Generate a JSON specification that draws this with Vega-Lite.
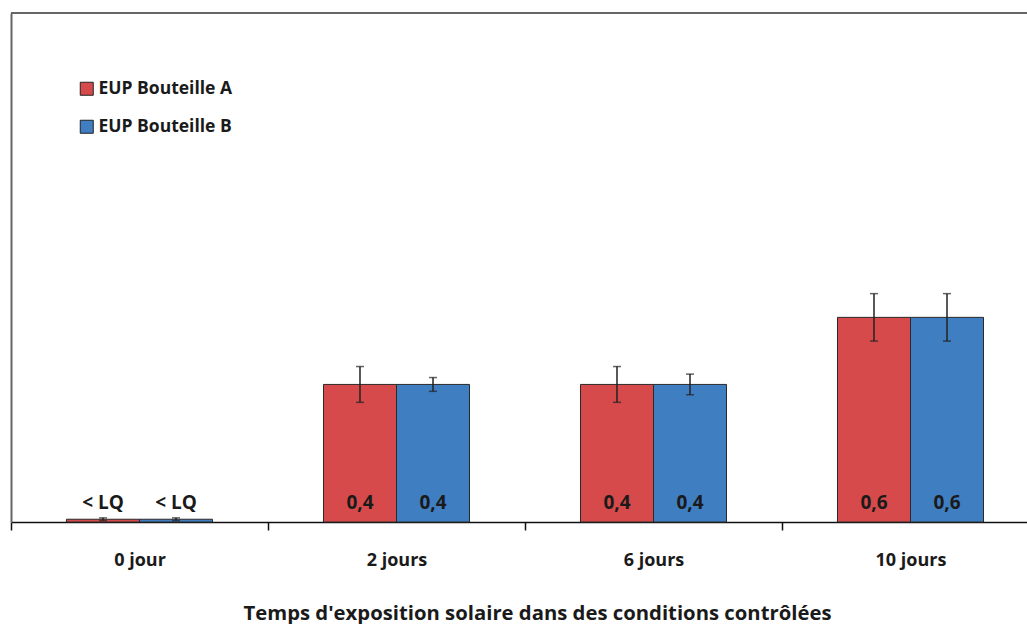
{
  "$schema": "https://vega.github.io/schema/vega-lite/v6.json",
  "autosize": "none",
  "width": 1016,
  "height": 509,
  "padding": {"left": 11, "top": 13, "right": 0, "bottom": 102},
  "background": "white",
  "config": {
    "view": {"stroke": null},
    "font": "Open Sans",
    "axis": {"labelFont": "Open Sans", "titleFont": "Open Sans"},
    "legend": {"labelFont": "Open Sans"}
  },
  "data": {
    "values": [
      {"jour": "0 jour", "serie": "EUP Bouteille A", "valeur": 0.008, "lo": 0.004, "hi": 0.012, "label": "< LQ"},
      {"jour": "0 jour", "serie": "EUP Bouteille B", "valeur": 0.008, "lo": 0.004, "hi": 0.012, "label": "< LQ"},
      {"jour": "2 jours", "serie": "EUP Bouteille A", "valeur": 0.4, "lo": 0.348, "hi": 0.452, "label": "0,4"},
      {"jour": "2 jours", "serie": "EUP Bouteille B", "valeur": 0.4, "lo": 0.38, "hi": 0.42, "label": "0,4"},
      {"jour": "6 jours", "serie": "EUP Bouteille A", "valeur": 0.4, "lo": 0.348, "hi": 0.452, "label": "0,4"},
      {"jour": "6 jours", "serie": "EUP Bouteille B", "valeur": 0.4, "lo": 0.37, "hi": 0.43, "label": "0,4"},
      {"jour": "10 jours", "serie": "EUP Bouteille A", "valeur": 0.595, "lo": 0.526, "hi": 0.664, "label": "0,6"},
      {"jour": "10 jours", "serie": "EUP Bouteille B", "valeur": 0.595, "lo": 0.526, "hi": 0.664, "label": "0,6"}
    ]
  },
  "encoding": {
    "x": {
      "field": "jour",
      "type": "nominal",
      "sort": ["0 jour", "2 jours", "6 jours", "10 jours"],
      "scale": {"range": [0, 1028], "paddingInner": 0, "paddingOuter": 0},
      "axis": {
        "title": "Temps d'exposition solaire dans des conditions contrôlées",
        "titleFontSize": 20.3,
        "titleFontWeight": "bold",
        "titleColor": "#1a1a1a",
        "titleX": 526,
        "titleY": 97,
        "titleBaseline": "alphabetic",
        "labelAngle": 0,
        "labelFontSize": 18,
        "labelFontWeight": "bold",
        "labelColor": "#1a1a1a",
        "labelPadding": 21,
        "tickBand": "extent",
        "tickSize": 8,
        "tickColor": "#111",
        "tickWidth": 1.5,
        "domainColor": "#111",
        "domainWidth": 1.5
      }
    },
    "xOffset": {
      "field": "serie",
      "type": "nominal",
      "scale": {"paddingInner": 0, "paddingOuter": 0.76}
    }
  },
  "layer": [
    {
      "mark": {"type": "rule", "color": "#666", "strokeWidth": 2},
      "encoding": {"y": {"datum": 1.48, "type": "quantitative"}, "x": null, "xOffset": null}
    },
    {
      "mark": {"type": "bar", "stroke": "#2a2a2a", "strokeWidth": 1},
      "encoding": {
        "y": {
          "field": "valeur",
          "type": "quantitative",
          "scale": {"domain": [0, 1.48], "nice": false},
          "axis": {"title": null, "labels": false, "ticks": false, "grid": false, "domainColor": "#666", "domainWidth": 2}
        },
        "color": {
          "field": "serie",
          "type": "nominal",
          "scale": {"domain": ["EUP Bouteille A", "EUP Bouteille B"], "range": ["#D64A4B", "#3F7EC1"]},
          "legend": {
            "title": null,
            "orient": "none",
            "legendX": 67,
            "legendY": 67,
            "padding": 0,
            "symbolType": "square",
            "symbolSize": 169,
            "symbolStrokeColor": "#222",
            "symbolStrokeWidth": 1,
            "symbolOpacity": 1,
            "labelFontSize": 17.5,
            "labelFontWeight": "bold",
            "labelColor": "#1a1a1a",
            "labelOffset": 3,
            "rowPadding": 19
          }
        }
      }
    },
    {
      "mark": {"type": "rule", "color": "#222", "strokeWidth": 1.5},
      "encoding": {
        "y": {"field": "lo", "type": "quantitative"},
        "y2": {"field": "hi"}
      }
    },
    {
      "mark": {"type": "tick", "color": "#222", "size": 8, "thickness": 1.5, "orient": "horizontal"},
      "encoding": {"y": {"field": "lo", "type": "quantitative"}}
    },
    {
      "mark": {"type": "tick", "color": "#222", "size": 8, "thickness": 1.5, "orient": "horizontal"},
      "encoding": {"y": {"field": "hi", "type": "quantitative"}}
    },
    {
      "mark": {"type": "text", "fontSize": 19, "fontWeight": "bold", "color": "#1a1a1a", "baseline": "middle", "dy": -19},
      "encoding": {
        "y": {"datum": 0, "type": "quantitative"},
        "text": {"field": "label"}
      }
    }
  ]
}
